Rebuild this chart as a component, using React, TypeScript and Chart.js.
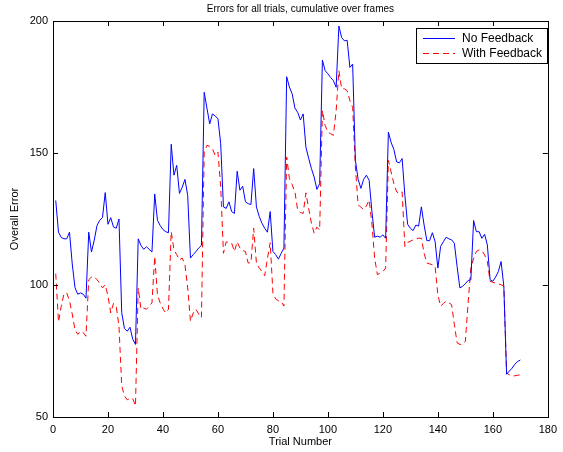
import React, { useEffect, useRef } from "react";
import { Chart, registerables } from "chart.js";

Chart.register(...registerables);

const titleText = "Errors for all trials, cumulative over frames";
const xLabel = "Trial Number";
const yLabel = "Overall Error";
const seriesNames = ["No Feedback", "With Feedback"];
const xTicks = [0, 20, 40, 60, 80, 100, 120, 140, 160, 180];
const yTicks = [50, 100, 150, 200];

const noFeedback = [
  132, 120, 118, 117.5, 117.5, 120, 108, 99, 96.5, 97,
  96.5, 95, 120, 112.5, 117, 122.5, 124.5, 125.5, 135, 123,
  125.5, 122, 121.5, 125, 89.5, 83.5, 82.5, 84, 79.5, 77.5,
  117.5, 115, 113.5, 114.5, 113.5, 112.5, 134.5, 124.5, 122.5, 121,
  120.2, 119.8, 153.3, 141.6, 145.3, 134.7, 137, 140, 134, 110.2,
  111.5, 112.7, 114, 115, 173, 167, 161, 164.8, 164, 163,
  153.5, 129.6, 129, 131.5, 127.8, 127.1, 143.1, 135.9, 137.4, 131.5,
  130.8, 130.5, 144.1, 129.6, 126, 123.4, 121.5, 120, 127.8, 112.7,
  111.5, 109.8, 112, 114, 178.9, 175, 172.4, 167, 165.4, 162.5,
  164.8, 152.2, 148, 144.1, 140.9, 136.2, 138.4, 185.2, 181.2, 180,
  178.6, 177.4, 174.9, 198.1, 193.7, 192.5, 192.7, 182.4, 183.7, 147.2,
  140, 136.6, 140, 141.6, 139.7, 128, 118.1, 118.5, 118.1, 119,
  117.7, 157.9, 154, 151.3, 146.6, 146.3, 147.9, 134, 123, 121.5,
  120.6, 122.7, 122.3, 129.6, 122.7, 116.8, 116.8, 119.8, 116.4, 106.4,
  114.6, 116.4, 118.1, 117.5, 117.1, 115.8, 107, 98.9, 99.5, 100.5,
  101.7, 102, 124.4, 120.2, 120.2, 117.7, 119.2, 115.2, 102, 101.4,
  103, 105.1, 108.9, 99.5, 66.2, 67.4, 68.5, 70, 71, 71.6,
];

const withFeedback = [
  104.3, 86, 92, 96.7, 97, 94, 89, 83, 81.3, 82.5,
  82, 80.6, 102, 103, 103.2, 102, 100.7, 98.9, 100.1, 95.8,
  89.4, 93, 92, 84.4, 61.8, 58, 56.5, 57, 57, 54.2,
  98.9, 90.8, 91.3, 90.8, 92, 93.2, 110.8, 96.3, 93.2, 91,
  89.4, 90.8, 120.2, 113.3, 111.5, 109.5, 110.2, 107.7, 98.9, 86.3,
  89.4, 90.8, 89, 87.6, 150.4, 152.9, 152.5, 151.6, 149.1, 150.4,
  137.2, 112, 116.4, 116, 115.8, 112.7, 116.4, 114, 113, 112.7,
  108.3, 108.5, 121.5, 108.3, 106.5, 105.1, 103.5, 110, 116, 97,
  94.7, 94, 93.8, 92, 148.5, 140.3, 138, 135.3, 128.4, 127.5,
  127.1, 134.9, 129, 123.4, 119.6, 121.9, 120.8, 166.1, 160.4, 157.9,
  157.3, 156.7, 166.1, 181.2, 174.3, 174.3, 173.6, 169.8, 167.3, 144.7,
  130.3, 129.5, 128.6, 129.9, 132.2, 123.4, 110.2, 103.9, 104.5, 105.1,
  106.4, 147.2, 142.8, 138.4, 135.3, 134.7, 135.3, 114.6, 116.1, 116.6,
  117.1, 117.5, 117.7, 117.7, 112, 108.3, 108, 107.7, 107, 96.3,
  92, 93, 93.8, 93.2, 92.6, 85, 78.1, 77.5, 77.5, 78.7,
  93.2, 106.4, 110, 112.7, 113.3, 113, 111.4, 108.9, 101.4, 101,
  100.7, 100.4, 100.1, 99.5, 66.6, 66, 65.6, 65.6, 65.8, 66,
];

const FONT = '"Liberation Sans", Arial, Helvetica, sans-serif';

const framePlugin = {
  id: "matlabFrame",
  afterDatasetsDraw(chart: any) {
    const { ctx, chartArea: a, scales } = chart;
    ctx.save();
    ctx.strokeStyle = "#000";
    ctx.lineWidth = 1;
    ctx.beginPath();
    const tl = 5;
    xTicks.forEach((v) => {
      const x = Math.round(scales.x.getPixelForValue(v)) + 0.5;
      ctx.moveTo(x, a.bottom);
      ctx.lineTo(x, a.bottom - tl);
      ctx.moveTo(x, a.top);
      ctx.lineTo(x, a.top + tl);
    });
    yTicks.forEach((v) => {
      const y = Math.round(scales.y.getPixelForValue(v)) + 0.5;
      ctx.moveTo(a.left, y);
      ctx.lineTo(a.left + tl, y);
      ctx.moveTo(a.right, y);
      ctx.lineTo(a.right - tl, y);
    });
    ctx.stroke();
    ctx.strokeRect(
      Math.round(a.left) + 0.5,
      Math.round(a.top) + 0.5,
      Math.round(a.right - a.left),
      Math.round(a.bottom - a.top)
    );

    // title
    ctx.fillStyle = "#000";
    ctx.font = `10px ${FONT}`;
    ctx.textAlign = "center";
    ctx.textBaseline = "middle";
    ctx.fillText(titleText, (a.left + a.right) / 2, 9);

    // legend
    const bw = 131;
    const bh = 35;
    const bx = Math.round(a.right) - 1 - bw;
    const by = Math.round(a.top) + 7;
    ctx.fillStyle = "#fff";
    ctx.fillRect(bx, by, bw, bh);
    ctx.strokeStyle = "#000";
    ctx.strokeRect(bx + 0.5, by + 0.5, bw, bh);
    const ds = chart.data.datasets;
    ds.forEach((d: any, i: number) => {
      const y = by + 10 + i * 15 + 0.5;
      ctx.save();
      ctx.strokeStyle = d.borderColor;
      ctx.lineWidth = 1;
      ctx.setLineDash(d.borderDash || []);
      ctx.beginPath();
      ctx.moveTo(bx + 7, y);
      ctx.lineTo(bx + 39, y);
      ctx.stroke();
      ctx.restore();
      ctx.fillStyle = "#000";
      ctx.textAlign = "left";
      ctx.textBaseline = "middle";
      ctx.font = `12px ${FONT}`;
      ctx.fillText(d.label, bx + 46, y);
    });
    ctx.restore();
  },
};

export default function App() {
  const ref = useRef<HTMLCanvasElement | null>(null);

  useEffect(() => {
    if (!ref.current) return;
    const trials = noFeedback.map((_, i) => i + 1);
    const chart = new Chart(ref.current, {
      type: "line",
      data: {
        datasets: [
          {
            label: seriesNames[0],
            data: noFeedback.map((v, i) => ({ x: trials[i], y: v })),
            borderColor: "rgb(0,0,255)",
            borderWidth: 1,
            pointRadius: 0,
            tension: 0,
            fill: false,
          },
          {
            label: seriesNames[1],
            data: withFeedback.map((v, i) => ({ x: trials[i], y: v })),
            borderColor: "rgb(255,0,0)",
            borderWidth: 1,
            borderDash: [6, 4],
            pointRadius: 0,
            tension: 0,
            fill: false,
          },
        ],
      },
      options: {
        responsive: false,
        animation: false,
        layout: { padding: { left: 0, right: 14, top: 21, bottom: 0 } },
        plugins: {
          legend: { display: false },
          title: { display: false },
          tooltip: { enabled: false },
        },
        scales: {
          x: {
            type: "linear",
            min: 0,
            max: 180,
            afterBuildTicks: (s: any) => {
              s.ticks = xTicks.map((v) => ({ value: v }));
            },
            afterFit: (s: any) => {
              s.height = 35;
            },
            grid: { display: false, drawTicks: false },
            border: { display: false },
            ticks: {
              color: "#000",
              font: { family: FONT, size: 11 },
              padding: 6,
              maxRotation: 0,
            },
            title: {
              display: true,
              text: xLabel,
              color: "#000",
              font: { family: FONT, size: 11 },
              padding: { top: 0, bottom: 3 },
            },
          },
          y: {
            type: "linear",
            min: 50,
            max: 200,
            afterBuildTicks: (s: any) => {
              s.ticks = yTicks.map((v) => ({ value: v }));
            },
            afterFit: (s: any) => {
              s.width = 53;
            },
            grid: { display: false, drawTicks: false },
            border: { display: false },
            ticks: {
              color: "#000",
              font: { family: FONT, size: 11 },
              padding: 5,
            },
            title: {
              display: true,
              text: yLabel,
              color: "#000",
              font: { family: FONT, size: 11 },
              padding: { top: 8, bottom: 0 },
            },
          },
        },
      },
      plugins: [framePlugin],
    });
    return () => chart.destroy();
  }, []);

  return (
    <div style={{ position: "fixed", left: 0, top: 0, width: 563, height: 452, background: "#fff" }}>
      <canvas ref={ref} width={563} height={452} style={{ display: "block" }} />
    </div>
  );
}
